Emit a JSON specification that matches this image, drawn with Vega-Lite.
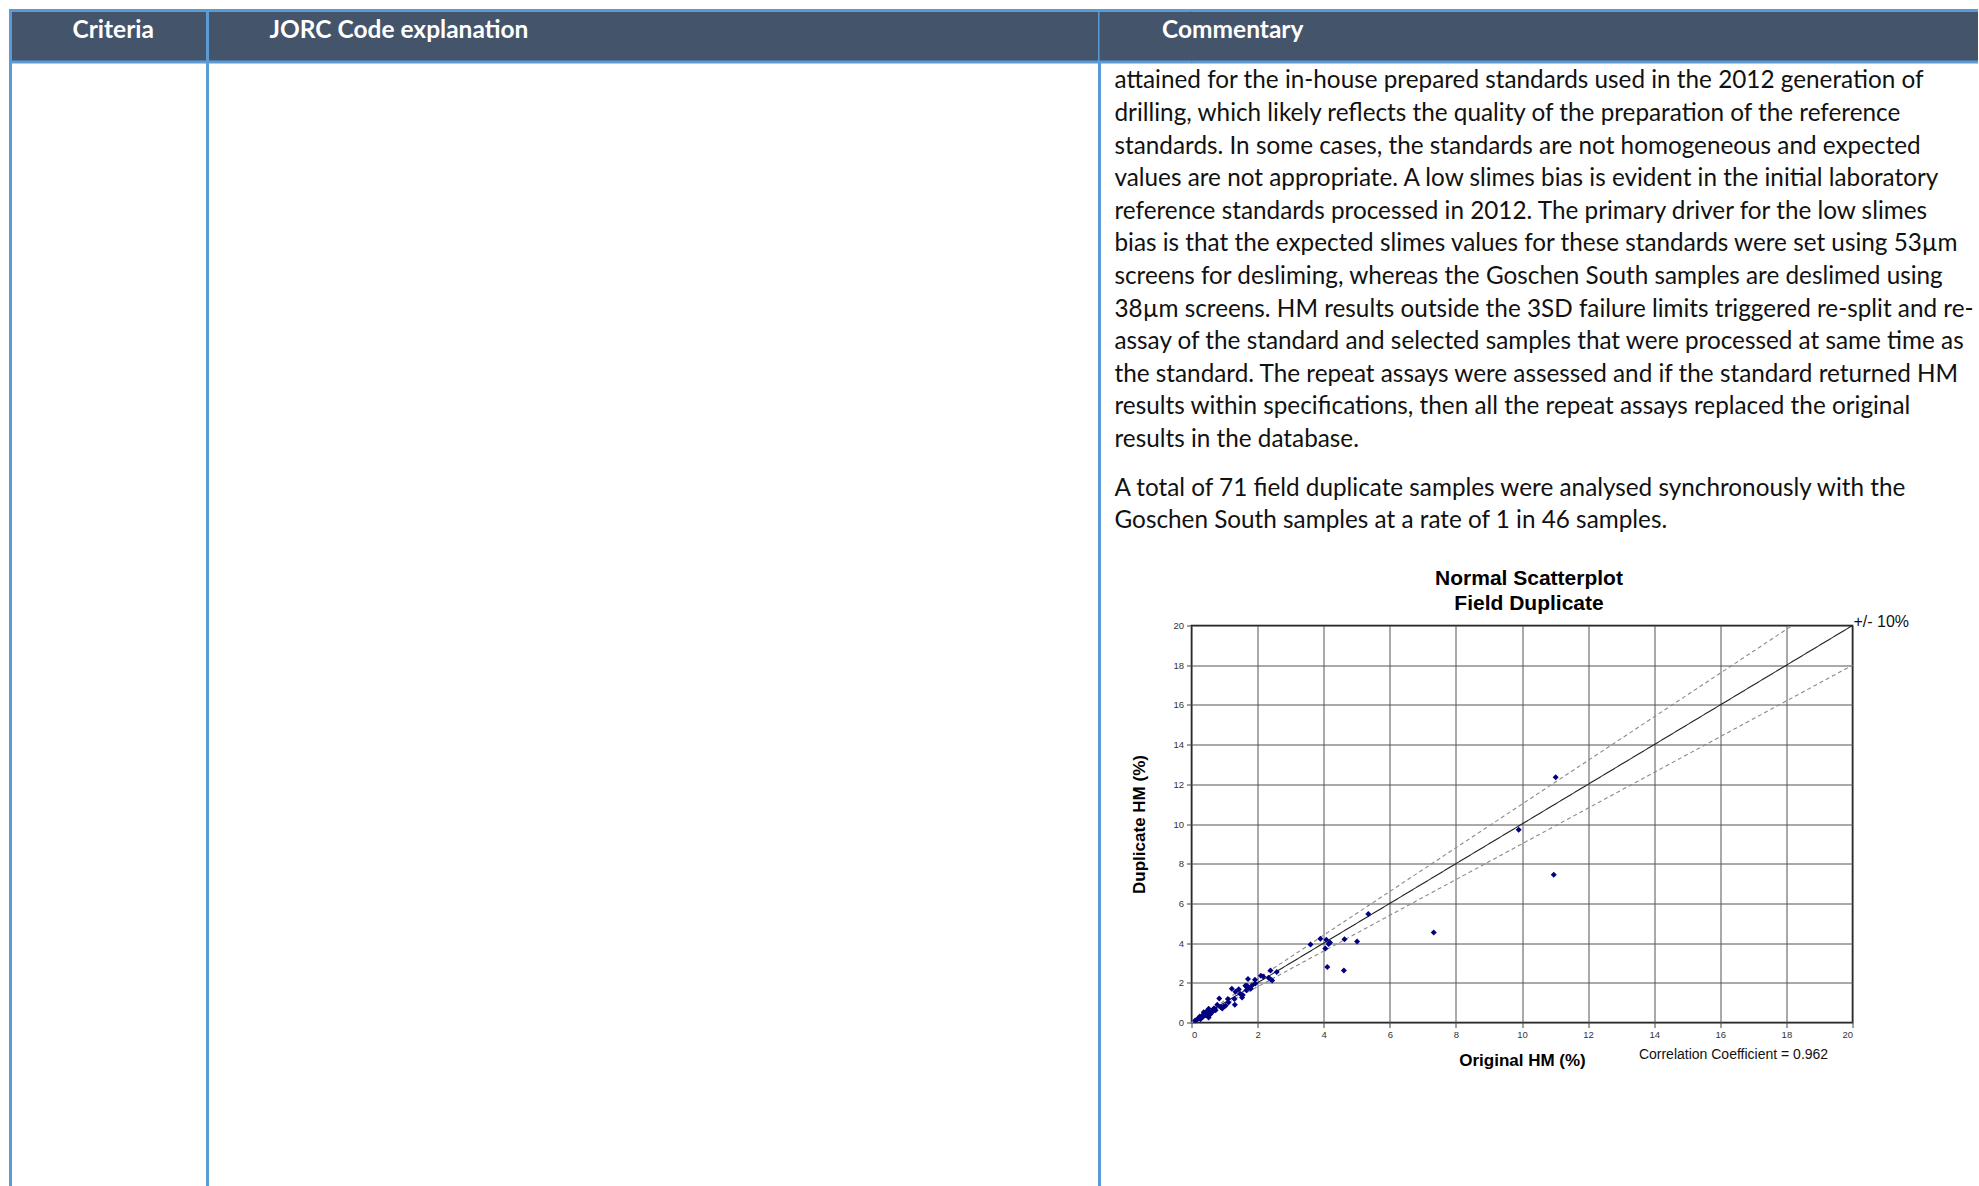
{
  "$schema": "https://vega.github.io/schema/vega-lite/v6.json",
  "padding": {"left": 7.5, "top": 7.5, "right": 0, "bottom": 0},
  "autosize": {"type": "pad"},
  "background": "white",
  "config": {"view": {"stroke": null}},
  "columns": 4,
  "align": "each",
  "bounds": "flush",
  "spacing": 0,
  "concat": [
    {
      "width": 197,
      "height": 51.5,
      "view": {"fill": "#44546A", "stroke": "#5B9BD5", "strokeWidth": 3},
      "data": {"values": [{"heading": "Criteria"}]},
      "mark": {"type": "text", "font": "Lato", "fontWeight": "bold", "fontSize": 24.5, "color": "white", "align": "left", "baseline": "alphabetic", "dx": 62},
      "encoding": {"text": {"field": "heading"}, "x": {"value": 0}, "y": {"value": 27}}
    },
    {
      "width": 892,
      "height": 51.5,
      "view": {"fill": "#44546A", "stroke": "#5B9BD5", "strokeWidth": 3},
      "data": {"values": [{"heading": "JORC Code explanation"}]},
      "mark": {"type": "text", "font": "Lato", "fontWeight": "bold", "fontSize": 24.5, "color": "white", "align": "left", "baseline": "alphabetic", "dx": 62},
      "encoding": {"text": {"field": "heading"}, "x": {"value": 0}, "y": {"value": 27}}
    },
    {
      "width": 91.5,
      "height": 51.5,
      "view": {"fill": "#44546A"},
      "data": {"values": [{}]},
      "layer": [
        {"mark": {"type": "rule", "color": "#44546A", "strokeWidth": 3}, "encoding": {"x": {"value": "width"}}},
        {"mark": {"type": "rule", "color": "#5B9BD5", "strokeWidth": 3, "strokeCap": "square"}, "encoding": {"y": {"value": 0}}},
        {"mark": {"type": "rule", "color": "#5B9BD5", "strokeWidth": 3, "strokeCap": "square"}, "encoding": {"y": {"value": "height"}}}
      ]
    },
    {
      "width": 786.5,
      "height": 51.5,
      "view": {"fill": "#44546A"},
      "data": {"values": [{"heading": "Commentary"}]},
      "layer": [
        {"mark": {"type": "rule", "color": "#5B9BD5", "strokeWidth": 3}, "encoding": {"y": {"value": 0}}},
        {"mark": {"type": "rule", "color": "#5B9BD5", "strokeWidth": 3}, "encoding": {"y": {"value": "height"}}},
        {
          "mark": {"type": "text", "font": "Lato", "fontWeight": "bold", "fontSize": 24.5, "color": "white", "align": "left", "baseline": "alphabetic", "dx": -29.5},
          "encoding": {"text": {"field": "heading"}, "x": {"value": 0}, "y": {"value": 27}}
        }
      ]
    },

    {
      "width": 197, "height": 409.2,
      "data": {"values": [{}]},
      "layer": [
        {"mark": {"type": "rule", "color": "#5B9BD5", "strokeWidth": 3, "strokeCap": "square"}, "encoding": {"x": {"value": 0}}},
        {"mark": {"type": "rule", "color": "#5B9BD5", "strokeWidth": 3, "strokeCap": "square"}, "encoding": {"x": {"value": "width"}}}
      ]
    },
    {
      "width": 892, "height": 409.2,
      "data": {"values": [{}]},
      "mark": {"type": "rule", "color": "#5B9BD5", "strokeWidth": 3, "strokeCap": "square"},
      "encoding": {"x": {"value": "width"}}
    },
    {
      "width": 91.5,
      "height": 409.2,
      "data": {"values": [
        {"line": 1, "text": "attained for the in-house prepared standards used in the 2012 generation of"},
        {"line": 2, "text": "drilling, which likely reflects the quality of the preparation of the reference"},
        {"line": 3, "text": "standards. In some cases, the standards are not homogeneous and expected"},
        {"line": 4, "text": "values are not appropriate. A low slimes bias is evident in the initial laboratory"},
        {"line": 5, "text": "reference standards processed in 2012. The primary driver for the low slimes"},
        {"line": 6, "text": "bias is that the expected slimes values for these standards were set using 53µm"},
        {"line": 7, "text": "screens for desliming, whereas the Goschen South samples are deslimed using"},
        {"line": 8, "text": "38µm screens. HM results outside the 3SD failure limits triggered re-split and re-"},
        {"line": 9, "text": "assay of the standard and selected samples that were processed at same time as"},
        {"line": 10, "text": "the standard. The repeat assays were assessed and if the standard returned HM"},
        {"line": 11, "text": "results within specifications, then all the repeat assays replaced the original"},
        {"line": 12, "text": "results in the database."}
      ]},
      "mark": {"type": "text", "font": "Lato", "fontSize": 24.3, "color": "#111111", "align": "left", "baseline": "middle", "dx": 15},
      "encoding": {
        "x": {"value": 0},
        "y": {"field": "line", "type": "ordinal", "axis": null, "scale": {"type": "point", "padding": 0.776, "align": 0.372}},
        "text": {"field": "text"}
      }
    },
    {
      "width": 786.5, "height": 409.2,
      "data": {"values": []},
      "mark": {"type": "rule"},
      "encoding": {}
    },

    {
      "width": 197, "height": 65.2,
      "data": {"values": [{}]},
      "layer": [
        {"mark": {"type": "rule", "color": "#5B9BD5", "strokeWidth": 3, "strokeCap": "square"}, "encoding": {"x": {"value": 0}}},
        {"mark": {"type": "rule", "color": "#5B9BD5", "strokeWidth": 3, "strokeCap": "square"}, "encoding": {"x": {"value": "width"}}}
      ]
    },
    {
      "width": 892, "height": 65.2,
      "data": {"values": [{}]},
      "mark": {"type": "rule", "color": "#5B9BD5", "strokeWidth": 3, "strokeCap": "square"},
      "encoding": {"x": {"value": "width"}}
    },
    {
      "width": 91.5,
      "height": 65.2,
      "data": {"values": [
        {"line": 1, "text": "A total of 71 field duplicate samples were analysed synchronously with the"},
        {"line": 2, "text": "Goschen South samples at a rate of 1 in 46 samples."}
      ]},
      "mark": {"type": "text", "font": "Lato", "fontSize": 24.3, "color": "#111111", "align": "left", "baseline": "middle", "dx": 15},
      "encoding": {
        "x": {"value": 0},
        "y": {"field": "line", "type": "ordinal", "axis": null, "scale": {"type": "point", "padding": 0.5}},
        "text": {"field": "text"}
      }
    },
    {
      "width": 786.5, "height": 65.2,
      "data": {"values": []},
      "mark": {"type": "rule"},
      "encoding": {}
    },

    {
      "width": 197, "height": 86.6,
      "data": {"values": [{}]},
      "layer": [
        {"mark": {"type": "rule", "color": "#5B9BD5", "strokeWidth": 3, "strokeCap": "square"}, "encoding": {"x": {"value": 0}}},
        {"mark": {"type": "rule", "color": "#5B9BD5", "strokeWidth": 3, "strokeCap": "square"}, "encoding": {"x": {"value": "width"}}}
      ]
    },
    {
      "width": 892, "height": 86.6,
      "data": {"values": [{}]},
      "mark": {"type": "rule", "color": "#5B9BD5", "strokeWidth": 3, "strokeCap": "square"},
      "encoding": {"x": {"value": "width"}}
    },
    {
      "width": 91.5, "height": 86.6,
      "data": {"values": []},
      "mark": {"type": "rule"},
      "encoding": {}
    },
    {
      "width": 786.5, "height": 86.6,
      "data": {"values": []},
      "mark": {"type": "rule"},
      "encoding": {}
    },

    {
      "width": 197, "height": 397,
      "data": {"values": [{}]},
      "layer": [
        {"mark": {"type": "rule", "color": "#5B9BD5", "strokeWidth": 3, "strokeCap": "square"}, "encoding": {"x": {"value": 0}}},
        {"mark": {"type": "rule", "color": "#5B9BD5", "strokeWidth": 3, "strokeCap": "square"}, "encoding": {"x": {"value": "width"}}}
      ]
    },
    {
      "width": 892, "height": 397,
      "data": {"values": [{}]},
      "mark": {"type": "rule", "color": "#5B9BD5", "strokeWidth": 3, "strokeCap": "square"},
      "encoding": {"x": {"value": "width"}}
    },
    {
      "width": 91.5, "height": 397,
      "data": {"values": []},
      "mark": {"type": "rule"},
      "encoding": {}
    },
    {
      "width": 661,
      "height": 397,
      "view": {"stroke": "#000000", "strokeWidth": 1.5},
      "title": {
        "text": ["Normal Scatterplot", "Field Duplicate"],
        "font": "Liberation Sans",
        "fontSize": 21,
        "fontWeight": "bold",
        "color": "#000000",
        "lineHeight": 25,
        "offset": 0.5,
        "dx": 7
      },
      "layer": [
        {
          "data": {"values": [
            {"line": "equal", "x0": 0, "y0": 0, "x1": 20, "y1": 20},
            {"line": "plus10", "x0": 0, "y0": 0, "x1": 18.18, "y1": 20},
            {"line": "minus10", "x0": 0, "y0": 0, "x1": 20, "y1": 18}
          ]},
          "mark": {"type": "rule", "strokeWidth": 1.1},
          "encoding": {
            "x": {
              "field": "x0", "type": "quantitative", "title": "Original HM (%)",
              "scale": {"domain": [0, 20], "nice": false},
              "axis": {
                "values": [0, 2, 4, 6, 8, 10, 12, 14, 16, 18, 20],
                "labelOverlap": false,
                "domain": false, "grid": true, "gridColor": "#555555", "gridWidth": 1,
                "ticks": true, "tickSize": 5, "tickColor": "#444444",
                "labelFont": "Liberation Sans", "labelFontSize": 9.5, "labelColor": "#333333", "labelPadding": 2,
                "titleFont": "Liberation Sans", "titleFontSize": 17, "titleFontWeight": "bold", "titleColor": "#000000", "titlePadding": 13
              }
            },
            "y": {
              "field": "y0", "type": "quantitative", "title": "Duplicate HM (%)",
              "scale": {"domain": [0, 20], "nice": false},
              "axis": {
                "values": [0, 2, 4, 6, 8, 10, 12, 14, 16, 18, 20],
                "labelOverlap": false,
                "domain": false, "grid": true, "gridColor": "#555555", "gridWidth": 1,
                "ticks": true, "tickSize": 5, "tickColor": "#444444",
                "labelFont": "Liberation Sans", "labelFontSize": 9.5, "labelColor": "#333333", "labelPadding": 3,
                "titleFont": "Liberation Sans", "titleFontSize": 17, "titleFontWeight": "bold", "titleColor": "#000000", "titlePadding": 24.5
              }
            },
            "x2": {"field": "x1"},
            "y2": {"field": "y1"},
            "color": {"field": "line", "type": "nominal", "legend": null, "scale": {"domain": ["equal", "plus10", "minus10"], "range": ["#222222", "#8a8a8a", "#8a8a8a"]}},
            "strokeDash": {"field": "line", "type": "nominal", "legend": null, "scale": {"domain": ["equal", "plus10", "minus10"], "range": [[1, 0], [4, 3], [4, 3]]}}
          }
        },
        {
          "data": {"values": [
            {"original": 11.02, "duplicate": 12.35},
            {"original": 9.9, "duplicate": 9.71},
            {"original": 10.96, "duplicate": 7.44},
            {"original": 7.33, "duplicate": 4.53},
            {"original": 5.35, "duplicate": 5.46},
            {"original": 5.01, "duplicate": 4.08},
            {"original": 4.63, "duplicate": 4.2},
            {"original": 4.61, "duplicate": 2.62},
            {"original": 4.11, "duplicate": 2.79},
            {"original": 3.9, "duplicate": 4.22},
            {"original": 3.6, "duplicate": 3.93},
            {"original": 4.05, "duplicate": 3.73},
            {"original": 4.08, "duplicate": 4.17},
            {"original": 4.19, "duplicate": 4.03},
            {"original": 4.15, "duplicate": 3.95},
            {"original": 2.58, "duplicate": 2.55},
            {"original": 2.39, "duplicate": 2.62},
            {"original": 2.39, "duplicate": 2.18},
            {"original": 2.44, "duplicate": 2.12},
            {"original": 2.33, "duplicate": 2.25},
            {"original": 2.1, "duplicate": 2.36},
            {"original": 2.17, "duplicate": 2.32},
            {"original": 1.92, "duplicate": 2.15},
            {"original": 1.93, "duplicate": 1.97},
            {"original": 1.71, "duplicate": 2.19},
            {"original": 1.68, "duplicate": 1.85},
            {"original": 1.71, "duplicate": 1.77},
            {"original": 1.63, "duplicate": 1.85},
            {"original": 1.66, "duplicate": 1.62},
            {"original": 1.79, "duplicate": 1.7},
            {"original": 1.55, "duplicate": 1.38},
            {"original": 1.53, "duplicate": 1.26},
            {"original": 1.43, "duplicate": 1.68},
            {"original": 1.33, "duplicate": 1.55},
            {"original": 1.22, "duplicate": 1.7},
            {"original": 1.3, "duplicate": 1.18},
            {"original": 1.31, "duplicate": 0.9},
            {"original": 1.12, "duplicate": 1.01},
            {"original": 1.1, "duplicate": 1.18},
            {"original": 0.84, "duplicate": 1.21},
            {"original": 0.78, "duplicate": 0.9},
            {"original": 0.88, "duplicate": 0.78},
            {"original": 0.98, "duplicate": 0.8},
            {"original": 1.03, "duplicate": 0.84},
            {"original": 0.93, "duplicate": 0.71},
            {"original": 0.67, "duplicate": 0.69},
            {"original": 0.63, "duplicate": 0.59},
            {"original": 0.52, "duplicate": 0.69},
            {"original": 0.52, "duplicate": 0.35},
            {"original": 0.52, "duplicate": 0.25},
            {"original": 0.47, "duplicate": 0.42},
            {"original": 0.37, "duplicate": 0.52},
            {"original": 0.32, "duplicate": 0.34},
            {"original": 0.31, "duplicate": 0.27},
            {"original": 0.27, "duplicate": 0.17},
            {"original": 0.21, "duplicate": 0.22},
            {"original": 0.17, "duplicate": 0.15},
            {"original": 0.11, "duplicate": 0.1},
            {"original": 0.62, "duplicate": 0.52},
            {"original": 0.57, "duplicate": 0.42},
            {"original": 0.42, "duplicate": 0.44},
            {"original": 0.42, "duplicate": 0.37},
            {"original": 0.68, "duplicate": 0.71},
            {"original": 0.55, "duplicate": 0.58},
            {"original": 0.45, "duplicate": 0.55},
            {"original": 1.83, "duplicate": 1.86},
            {"original": 1.47, "duplicate": 1.45},
            {"original": 0.73, "duplicate": 0.62},
            {"original": 0.36, "duplicate": 0.3},
            {"original": 0.61, "duplicate": 0.5},
            {"original": 0.25, "duplicate": 0.3}
          ]},
          "mark": {"type": "point", "shape": "diamond", "filled": true, "color": "#000080", "opacity": 1, "size": 36},
          "encoding": {
            "x": {
              "field": "original", "type": "quantitative", "title": "Original HM (%)",
              "scale": {"domain": [0, 20], "nice": false},
              "axis": {
                "values": [0, 2, 4, 6, 8, 10, 12, 14, 16, 18, 20],
                "labelOverlap": false,
                "domain": false, "grid": true, "gridColor": "#555555", "gridWidth": 1,
                "ticks": true, "tickSize": 5, "tickColor": "#444444",
                "labelFont": "Liberation Sans", "labelFontSize": 9.5, "labelColor": "#333333", "labelPadding": 2,
                "titleFont": "Liberation Sans", "titleFontSize": 17, "titleFontWeight": "bold", "titleColor": "#000000", "titlePadding": 13
              }
            },
            "y": {
              "field": "duplicate", "type": "quantitative", "title": "Duplicate HM (%)",
              "scale": {"domain": [0, 20], "nice": false},
              "axis": {
                "values": [0, 2, 4, 6, 8, 10, 12, 14, 16, 18, 20],
                "labelOverlap": false,
                "domain": false, "grid": true, "gridColor": "#555555", "gridWidth": 1,
                "ticks": true, "tickSize": 5, "tickColor": "#444444",
                "labelFont": "Liberation Sans", "labelFontSize": 9.5, "labelColor": "#333333", "labelPadding": 3,
                "titleFont": "Liberation Sans", "titleFontSize": 17, "titleFontWeight": "bold", "titleColor": "#000000", "titlePadding": 24.5
              }
            }
          }
        },
        {
          "data": {"values": [{"note": "+/- 10%"}]},
          "mark": {"type": "text", "font": "Liberation Sans", "fontSize": 16, "color": "#111111", "align": "left", "baseline": "alphabetic", "dx": 1},
          "encoding": {
            "x": {
              "datum": 20, "type": "quantitative", "title": "Original HM (%)",
              "scale": {"domain": [0, 20], "nice": false},
              "axis": {
                "values": [0, 2, 4, 6, 8, 10, 12, 14, 16, 18, 20],
                "labelOverlap": false,
                "domain": false, "grid": true, "gridColor": "#555555", "gridWidth": 1,
                "ticks": true, "tickSize": 5, "tickColor": "#444444",
                "labelFont": "Liberation Sans", "labelFontSize": 9.5, "labelColor": "#333333", "labelPadding": 2,
                "titleFont": "Liberation Sans", "titleFontSize": 17, "titleFontWeight": "bold", "titleColor": "#000000", "titlePadding": 13
              }
            },
            "y": {
              "datum": 19.9, "type": "quantitative", "title": "Duplicate HM (%)",
              "scale": {"domain": [0, 20], "nice": false},
              "axis": {
                "values": [0, 2, 4, 6, 8, 10, 12, 14, 16, 18, 20],
                "labelOverlap": false,
                "domain": false, "grid": true, "gridColor": "#555555", "gridWidth": 1,
                "ticks": true, "tickSize": 5, "tickColor": "#444444",
                "labelFont": "Liberation Sans", "labelFontSize": 9.5, "labelColor": "#333333", "labelPadding": 3,
                "titleFont": "Liberation Sans", "titleFontSize": 17, "titleFontWeight": "bold", "titleColor": "#000000", "titlePadding": 24.5
              }
            },
            "text": {"field": "note"}
          }
        },
        {
          "data": {"values": [{"note": "Correlation Coefficient = 0.962"}]},
          "mark": {"type": "text", "font": "Liberation Sans", "fontSize": 14, "color": "#111111", "align": "center", "baseline": "alphabetic"},
          "encoding": {
            "x": {
              "datum": 16.4, "type": "quantitative", "title": "Original HM (%)",
              "scale": {"domain": [0, 20], "nice": false},
              "axis": {
                "values": [0, 2, 4, 6, 8, 10, 12, 14, 16, 18, 20],
                "labelOverlap": false,
                "domain": false, "grid": true, "gridColor": "#555555", "gridWidth": 1,
                "ticks": true, "tickSize": 5, "tickColor": "#444444",
                "labelFont": "Liberation Sans", "labelFontSize": 9.5, "labelColor": "#333333", "labelPadding": 2,
                "titleFont": "Liberation Sans", "titleFontSize": 17, "titleFontWeight": "bold", "titleColor": "#000000", "titlePadding": 13
              }
            },
            "y": {
              "datum": -1.86, "type": "quantitative", "title": "Duplicate HM (%)",
              "scale": {"domain": [0, 20], "nice": false},
              "axis": {
                "values": [0, 2, 4, 6, 8, 10, 12, 14, 16, 18, 20],
                "labelOverlap": false,
                "domain": false, "grid": true, "gridColor": "#555555", "gridWidth": 1,
                "ticks": true, "tickSize": 5, "tickColor": "#444444",
                "labelFont": "Liberation Sans", "labelFontSize": 9.5, "labelColor": "#333333", "labelPadding": 3,
                "titleFont": "Liberation Sans", "titleFontSize": 17, "titleFontWeight": "bold", "titleColor": "#000000", "titlePadding": 24.5
              }
            },
            "text": {"field": "note"}
          }
        }
      ]
    },

    {
      "width": 197, "height": 164.5,
      "data": {"values": [{}]},
      "layer": [
        {"mark": {"type": "rule", "color": "#5B9BD5", "strokeWidth": 3, "strokeCap": "square"}, "encoding": {"x": {"value": 0}}},
        {"mark": {"type": "rule", "color": "#5B9BD5", "strokeWidth": 3, "strokeCap": "square"}, "encoding": {"x": {"value": "width"}}}
      ]
    },
    {
      "width": 892, "height": 164.5,
      "data": {"values": [{}]},
      "mark": {"type": "rule", "color": "#5B9BD5", "strokeWidth": 3, "strokeCap": "square"},
      "encoding": {"x": {"value": "width"}}
    }
  ]
}
